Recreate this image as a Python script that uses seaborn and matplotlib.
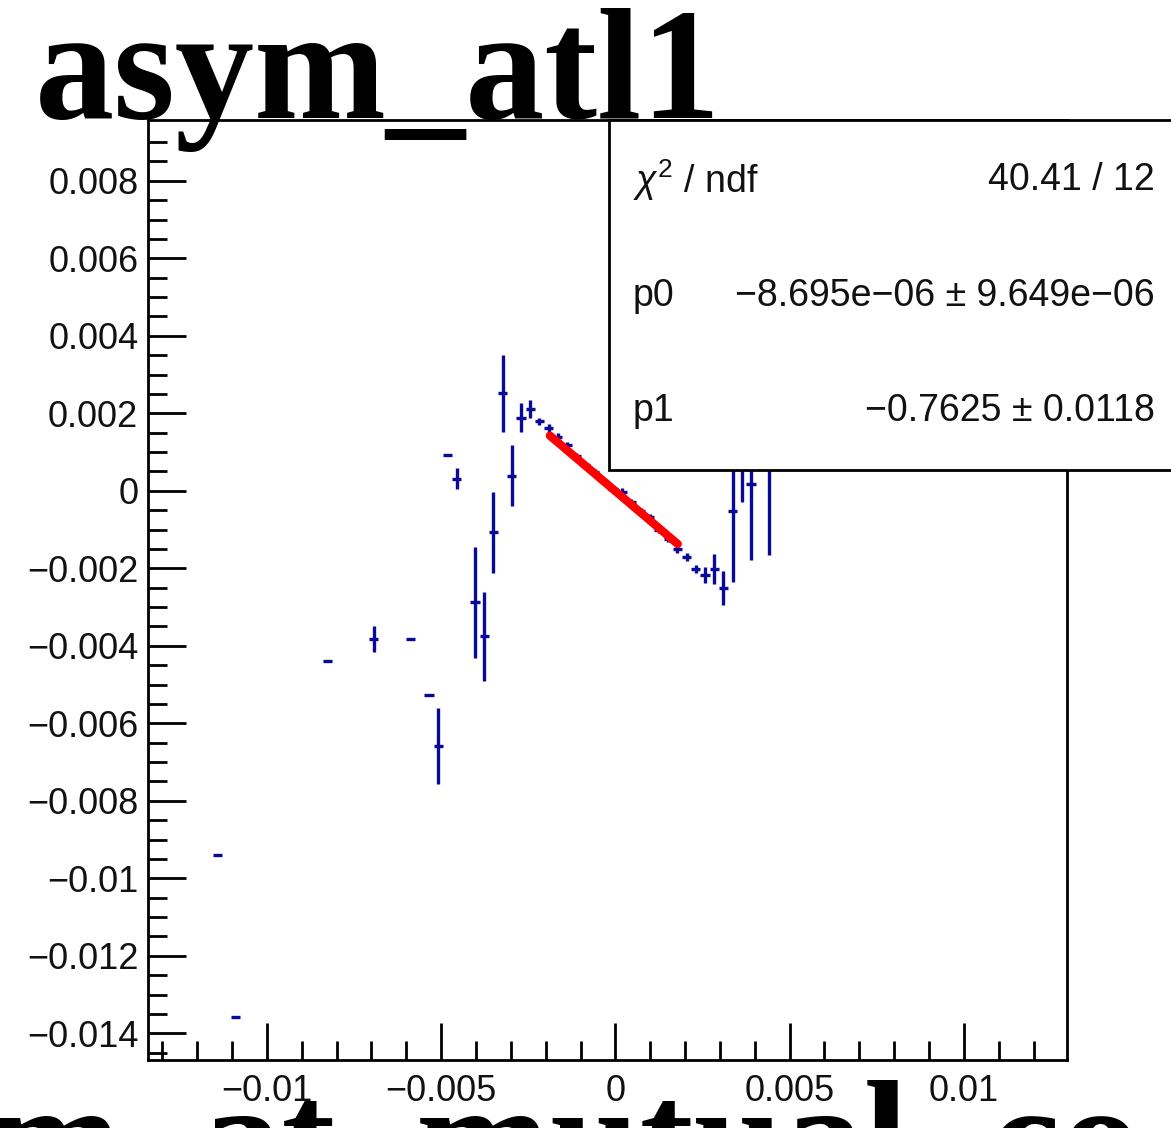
import numpy as np
import matplotlib
matplotlib.use("Agg")
import matplotlib.pyplot as plt
import seaborn as sns
from matplotlib.patches import Rectangle

# ==========================================
# DATA
# ==========================================
bin_x = [-0.011420, -0.010892, -0.008252, -0.006932, -0.005876, -0.005348,
         -0.005084, -0.004820, -0.004556, -0.004028, -0.003764, -0.003500,
         -0.003236, -0.002972, -0.002708, -0.002444, -0.002180, -0.001916,
         -0.001652, -0.001388, -0.001124, -0.000860, -0.000596, -0.000332,
         -0.000068, 0.000196, 0.000460, 0.000724, 0.000988, 0.001252,
         0.001516, 0.001780, 0.002044, 0.002308, 0.002572, 0.002836,
         0.003100, 0.003364, 0.003628, 0.003892, 0.004420]
asym = [-0.00940, -0.01359, -0.00438, -0.00382, -0.00382, -0.00528,
        -0.00658, 0.00093, 0.00031, -0.00288, -0.00376, -0.00107,
        0.00252, 0.00039, 0.00189, 0.00211, 0.00179, 0.00162,
        0.00140, 0.00118, 0.00090, 0.00066, 0.00048, 0.00026,
        0.00004, -0.00002, -0.00028, -0.00052, -0.00068, -0.00100,
        -0.00124, -0.00150, -0.00171, -0.00202, -0.00217, -0.00202,
        -0.00251, -0.00052, 0.00100, 0.00018, 0.00150]
asym_err = [0.0, 0.0, 0.0, 0.00034, 0.0, 0.0,
            0.00098, 0.0, 0.00027, 0.00144, 0.00115, 0.00105,
            0.00099, 0.00078, 0.00037, 0.00024, 0.00010, 0.00010,
            0.00009, 0.00009, 0.00008, 0.00008, 0.00008, 0.00008,
            0.00008, 0.00008, 0.00008, 0.00008, 0.00008, 0.00009,
            0.00009, 0.00010, 0.00010, 0.00010, 0.00020, 0.00039,
            0.00045, 0.00183, 0.00130, 0.00196, 0.00315]
half_bin = 0.000132

# fit result  p0 + p1*x
p0, p0_err = -8.695e-06, 9.649e-06
p1, p1_err = -0.7625, 0.0118
chi2, ndf = 40.41, 12
fit_range = [-0.00188, 0.00179]

title = "asym_atl1"
x_title = "m_at_mutual_co"

# ==========================================
# FIGURE
# ==========================================
sns.set_theme(style="white")
plt.rcParams['font.family'] = ['Liberation Sans', 'DejaVu Sans']
plt.rcParams['mathtext.fontset'] = 'custom'
plt.rcParams['mathtext.rm'] = 'Liberation Sans'
plt.rcParams['mathtext.it'] = 'Liberation Sans:italic'

fig = plt.figure(figsize=(11.71, 11.28), dpi=100)
ax = fig.add_axes([0.1264, 0.0603, 0.9112 - 0.1264, 0.8936 - 0.0603])

ax.errorbar(bin_x, asym, xerr=half_bin, yerr=asym_err, fmt='none',
            ecolor='#0a0a9a', elinewidth=2.4, capsize=0, zorder=3)

fx = np.array(fit_range)
sns.lineplot(x=fx, y=p0 + p1 * fx, color='#ff0000', linewidth=6,
             ax=ax, zorder=4, legend=False)

ax.set_xlim(-0.01341, 0.01296)
ax.set_ylim(-0.01469, 0.00957)

ax.set_xticks([-0.01, -0.005, 0, 0.005, 0.01])
ax.set_xticklabels(["\u22120.01", "\u22120.005", "0", "0.005", "0.01"])
ax.set_xticks(np.arange(-0.013, 0.0125, 0.001), minor=True)
yt = [-0.014, -0.012, -0.01, -0.008, -0.006, -0.004, -0.002, 0,
      0.002, 0.004, 0.006, 0.008]
ax.set_yticks(yt)
ax.set_yticklabels([("%g" % v).replace("-", "\u2212") for v in yt])
ax.set_yticks(np.arange(-0.0145, 0.0095, 0.0005), minor=True)

ax.tick_params(which='both', direction='in', left=True, bottom=True,
               top=False, right=False, colors='black', width=2,
               labelsize=26, labelcolor='#111111')
ax.tick_params(which='major', length=27)
ax.tick_params(which='minor', length=14)
ax.tick_params(axis='y', pad=7)
ax.tick_params(axis='x', pad=10)
for s in ax.spines.values():
    s.set_color('black')
    s.set_linewidth(2)
ax.set_xlabel("")
ax.set_ylabel("")

# stats box (white, sticks out past the right edge)
W, H = 1171.0, 1128.0
box = Rectangle((609 / W, 1 - 470 / H), 600 / W, 350 / H,
                transform=fig.transFigure, facecolor='white',
                edgecolor='black', linewidth=2, zorder=10)
fig.patches.append(box)
rows = [(r"$\chi^{2}$ / ndf", f"{chi2:.2f} / {ndf}"),
        ("p0", "\u22128.695e\u221206 \u00b1 9.649e\u221206"),
        ("p1", f"\u2212{abs(p1):.4f} \u00b1 {p1_err:.4f}")]
row_y = [180, 296, 411]
for (lab, val), ry in zip(rows, row_y):
    fig.text(633 / W, 1 - ry / H, lab, ha='left', va='center',
             fontsize=27, color='#111111', zorder=11)
    fig.text(1155 / W, 1 - ry / H, val, ha='right', va='center',
             fontsize=27, color='#111111', zorder=11)

# big ROOT-style titles
fig.text(35 / W, 1 - 118 / H, title, ha='left', va='baseline',
         fontsize=114, fontweight='bold', family='Liberation Serif',
         color='black', zorder=12)
fig.text(-13 / W, 1 - 1192 / H, x_title, ha='left', va='baseline',
         fontsize=116, fontweight='bold', family='Liberation Serif',
         color='black', zorder=12)

fig.savefig("out.png", dpi=100)
